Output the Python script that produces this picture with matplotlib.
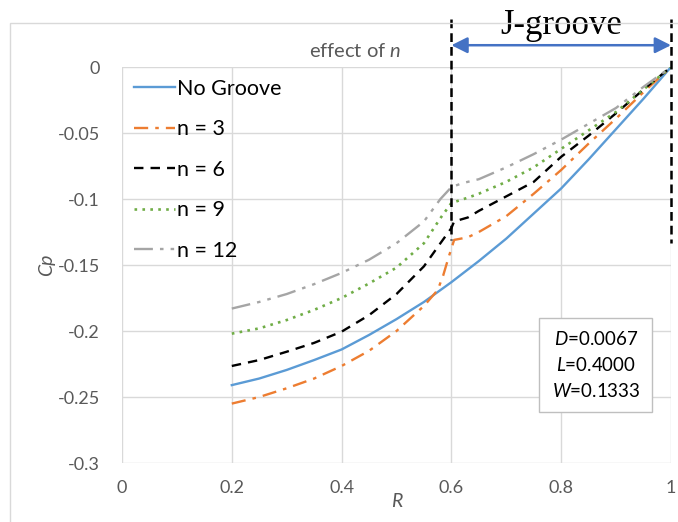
import matplotlib.pyplot as plt
from matplotlib.patches import Rectangle

# values
r_no_groove = [0.2, 0.25, 0.3, 0.35, 0.4, 0.45, 0.5, 0.55, 0.6, 0.65, 0.7, 0.75, 0.8, 0.85, 0.9, 0.95, 1.0]
cp_no_groove = [-0.241, -0.236, -0.2295, -0.222, -0.214, -0.203, -0.191, -0.178, -0.163, -0.147, -0.130, -0.111, -0.092, -0.070, -0.047, -0.024, 0.0]

r_n3 = [0.2, 0.25, 0.3, 0.35, 0.4, 0.45, 0.5, 0.55, 0.575, 0.585, 0.595, 0.605, 0.63, 0.65, 0.7, 0.75, 0.8, 0.85, 0.9, 0.95, 1.0]
cp_n3 = [-0.255, -0.250, -0.2434, -0.236, -0.2265, -0.215, -0.200, -0.181, -0.169, -0.158, -0.144, -0.131, -0.129, -0.125, -0.113, -0.096, -0.078, -0.058, -0.039, -0.019, 0.0]

r_n6 = [0.2, 0.25, 0.3, 0.35, 0.4, 0.45, 0.5, 0.55, 0.58, 0.6, 0.605, 0.63, 0.65, 0.7, 0.75, 0.8, 0.85, 0.9, 0.95, 1.0]
cp_n6 = [-0.2265, -0.222, -0.2157, -0.209, -0.2005, -0.188, -0.172, -0.151, -0.1335, -0.122, -0.117, -0.114, -0.109, -0.098, -0.087, -0.068, -0.052, -0.035, -0.017, 0.0]

r_n9 = [0.2, 0.25, 0.3, 0.35, 0.4, 0.45, 0.5, 0.55, 0.58, 0.6, 0.63, 0.65, 0.7, 0.75, 0.8, 0.85, 0.9, 0.95, 1.0]
cp_n9 = [-0.202, -0.198, -0.1917, -0.184, -0.175, -0.164, -0.152, -0.1335, -0.1145, -0.103, -0.099, -0.096, -0.087, -0.076, -0.062, -0.048, -0.034, -0.017, 0.0]

r_n12 = [0.2, 0.25, 0.3, 0.35, 0.4, 0.45, 0.5, 0.55, 0.58, 0.6, 0.62, 0.65, 0.7, 0.75, 0.8, 0.85, 0.9, 0.95, 1.0]
cp_n12 = [-0.183, -0.178, -0.172, -0.1645, -0.156, -0.146, -0.1335, -0.117, -0.100, -0.091, -0.088, -0.085, -0.076, -0.066, -0.055, -0.043, -0.031, -0.015, 0.0]

labels = ["No Groove", "n = 3", "n = 6", "n = 9", "n = 12"]
params_text = ["$\\it{D}$=0.0067", "$\\it{L}$=0.4000", "$\\it{W}$=0.1333"]

plt.rcParams["font.family"] = ["Lato", "DejaVu Sans"]
plt.rcParams["mathtext.fontset"] = "custom"
plt.rcParams["mathtext.it"] = "Lato:italic"
plt.rcParams["mathtext.rm"] = "Lato"

grey = "#595959"

fig = plt.figure(figsize=(6.78, 5.22), dpi=100)
ax = fig.add_axes([122 / 678, 1 - 463 / 522, 549 / 678, 396 / 522])

# outer chart border
fig.patches.append(Rectangle((10 / 678, -0.05), 1.0, 1 - 23 / 522 + 0.05,
                             transform=fig.transFigure, fill=False,
                             edgecolor="#D9D9D9", lw=1.0))

ax.plot(r_no_groove, cp_no_groove, color="#5B9BD5", lw=1.7, label=labels[0])
ax.plot(r_n3, cp_n3, color="#ED7D31", lw=1.7, dashes=(6, 3, 1.5, 3), label=labels[1])
ax.plot(r_n6, cp_n6, color="black", lw=1.7, dashes=(4, 3), label=labels[2])
ax.plot(r_n9, cp_n9, color="#70AD47", lw=1.9, dashes=(1, 2), label=labels[3])
ax.plot(r_n12, cp_n12, color="#A5A5A5", lw=1.7, dashes=(8, 3, 1.5, 3, 1.5, 3), label=labels[4])

ax.set_xlim(0, 1)
ax.set_ylim(-0.3, 0)
ax.set_xticks([0, 0.2, 0.4, 0.6, 0.8, 1.0])
ax.set_xticklabels(["0", "0.2", "0.4", "0.6", "0.8", "1"])
ax.set_yticks([0, -0.05, -0.1, -0.15, -0.2, -0.25, -0.3])
ax.set_yticklabels(["0", "-0.05", "-0.1", "-0.15", "-0.2", "-0.25", "-0.3"])
ax.tick_params(axis="x", length=0, labelsize=13, labelcolor=grey, pad=12)
ax.tick_params(axis="y", length=0, labelsize=13, labelcolor=grey, pad=16)
ax.grid(True, color="#D9D9D9", lw=1.0)
ax.set_axisbelow(True)
for s in ax.spines.values():
    s.set_visible(False)

ax.set_xlabel("R", fontsize=14, color=grey, style="italic", labelpad=-2)
ax.set_ylabel("Cp", fontsize=14, color=grey, style="italic", labelpad=2)

leg = ax.legend(loc="upper left", frameon=False, fontsize=15.5, handlelength=1.9,
                handletextpad=0.1, labelspacing=0.95, borderaxespad=0.15,
                bbox_to_anchor=(0.0, 1.0))

# J-groove marker lines and arrow
ax.plot([0.6, 0.6], [0.036, -0.131], color="black", lw=1.8, ls=(0, (3.5, 2)), clip_on=False)
ax.plot([1.0, 1.0], [0.036, -0.133], color="black", lw=1.8, ls=(0, (3.5, 2)), clip_on=False)
ax.annotate("", xy=(1.0, 0.0165), xytext=(0.6, 0.0165), xycoords="data",
            arrowprops=dict(arrowstyle="<|-|>", color="#4472C4", lw=1.8,
                            mutation_scale=24, shrinkA=0, shrinkB=0),
            annotation_clip=False)
ax.text(0.80, 0.0315, "J-groove", fontsize=25, family="Liberation Serif",
        ha="center", va="center", clip_on=False)
ax.text(0.425, 0.0125, "effect of $\\it{n}$", fontsize=14.5, color=grey,
        ha="center", va="center", clip_on=False)

ax.text(0.863, -0.2258, "\n".join(params_text), fontsize=13.5, ha="center", va="center",
        linespacing=1.55,
        bbox=dict(boxstyle="square,pad=0.65", facecolor="white", edgecolor="#BFBFBF", lw=1.0))

fig.savefig("out.png", dpi=100)
